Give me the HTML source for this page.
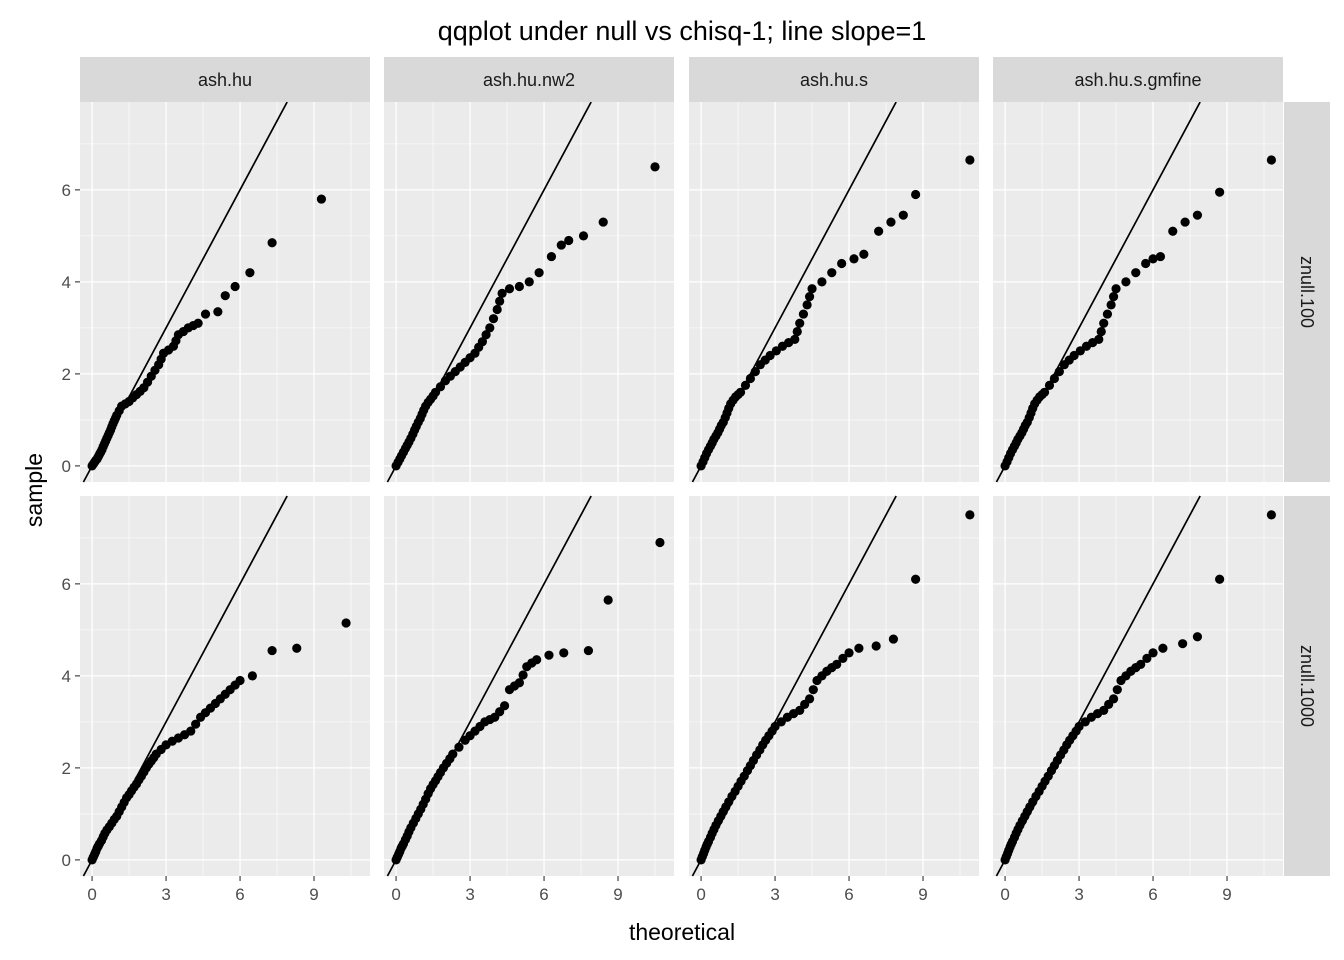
<!DOCTYPE html>
<html><head><meta charset="utf-8"><style>
body{margin:0;background:#fff;}
svg{display:block;font-family:"Liberation Sans",Arial,sans-serif;}
</style></head><body>
<svg id="chart" width="1344" height="960" viewBox="0 0 1344 960" xmlns="http://www.w3.org/2000/svg">
<text x="682" y="40" text-anchor="middle" font-size="27" fill="#000">qqplot under null vs chisq-1; line slope=1</text>
<text x="682" y="940" text-anchor="middle" font-size="23" fill="#000">theoretical</text>
<text transform="translate(42,490) rotate(-90)" text-anchor="middle" font-size="23" fill="#000">sample</text>
</svg>
<script>
const methods=["ash.hu","ash.hu.nw2","ash.hu.s","ash.hu.s.gmfine"];
const nulls=["znull.100","znull.1000"];
const xTicks=[0,3,6,9];
const yTicks=[0,2,4,6];
const p100_hu=[[0,0],[0.05,0.04],[0.1,0.08],[0.15,0.12],[0.2,0.15],[0.25,0.2],[0.3,0.25],[0.35,0.3],[0.4,0.35],[0.45,0.42],[0.5,0.48],[0.55,0.54],[0.6,0.6],[0.65,0.66],[0.7,0.72],[0.75,0.78],[0.8,0.85],[0.85,0.92],[0.9,0.98],[0.95,1.04],[1.0,1.1],[1.1,1.2],[1.2,1.3],[1.35,1.35],[1.5,1.4],[1.65,1.48],[1.8,1.55],[1.95,1.62],[2.1,1.7],[2.25,1.82],[2.4,1.95],[2.55,2.08],[2.7,2.2],[2.8,2.32],[2.9,2.45],[3.1,2.52],[3.3,2.6],[3.4,2.72],[3.5,2.85],[3.7,2.92],[3.9,3.0],[4.1,3.05],[4.3,3.1],[4.6,3.3],[5.1,3.35],[5.4,3.7],[5.8,3.9],[6.4,4.2],[7.3,4.85],[9.3,5.8]];
const p100_nw2=[[0,0],[0.08,0.08],[0.15,0.15],[0.22,0.22],[0.3,0.3],[0.38,0.38],[0.45,0.45],[0.52,0.52],[0.6,0.6],[0.68,0.69],[0.75,0.78],[0.82,0.86],[0.9,0.95],[0.98,1.03],[1.05,1.12],[1.12,1.21],[1.2,1.3],[1.3,1.38],[1.4,1.45],[1.5,1.52],[1.6,1.6],[1.8,1.72],[2,1.85],[2.2,1.95],[2.4,2.05],[2.6,2.15],[2.8,2.25],[3.0,2.35],[3.2,2.45],[3.35,2.58],[3.5,2.7],[3.65,2.85],[3.8,3.0],[3.95,3.2],[4.1,3.4],[4.2,3.58],[4.3,3.75],[4.6,3.85],[5,3.9],[5.4,4.0],[5.8,4.2],[6.3,4.55],[6.7,4.8],[7.0,4.9],[7.6,5.0],[8.4,5.3],[10.5,6.5]];
const p100_s=[[0,0],[0.08,0.09],[0.15,0.18],[0.22,0.27],[0.3,0.35],[0.38,0.43],[0.45,0.5],[0.52,0.58],[0.6,0.65],[0.68,0.72],[0.75,0.8],[0.82,0.88],[0.9,0.95],[0.98,1.05],[1.05,1.15],[1.12,1.25],[1.2,1.35],[1.3,1.43],[1.4,1.5],[1.5,1.55],[1.6,1.6],[1.8,1.75],[2,1.9],[2.2,2.05],[2.4,2.2],[2.6,2.3],[2.8,2.4],[3.05,2.5],[3.3,2.6],[3.55,2.68],[3.8,2.75],[3.9,2.92],[4.0,3.1],[4.15,3.3],[4.3,3.5],[4.4,3.68],[4.5,3.85],[4.9,4.0],[5.3,4.2],[5.7,4.4],[6.2,4.5],[6.6,4.6],[7.2,5.1],[7.7,5.3],[8.2,5.45],[8.7,5.9],[10.9,6.65]];
const p100_gm=[[0,0],[0.08,0.09],[0.15,0.18],[0.22,0.27],[0.3,0.35],[0.38,0.43],[0.45,0.5],[0.52,0.58],[0.6,0.65],[0.68,0.72],[0.75,0.8],[0.82,0.88],[0.9,0.95],[0.98,1.05],[1.05,1.15],[1.12,1.25],[1.2,1.35],[1.3,1.43],[1.4,1.5],[1.5,1.55],[1.6,1.6],[1.8,1.75],[2,1.9],[2.2,2.05],[2.4,2.2],[2.6,2.3],[2.8,2.4],[3.05,2.5],[3.3,2.6],[3.55,2.68],[3.8,2.75],[3.9,2.92],[4.0,3.1],[4.15,3.3],[4.3,3.5],[4.4,3.68],[4.5,3.85],[4.9,4.0],[5.3,4.2],[5.7,4.4],[6.0,4.5],[6.3,4.55],[6.8,5.1],[7.3,5.3],[7.8,5.45],[8.7,5.95],[10.8,6.65]];
const p1000_hu=[[0,0],[0.05,0.06],[0.1,0.12],[0.15,0.18],[0.2,0.25],[0.25,0.3],[0.3,0.35],[0.38,0.42],[0.45,0.5],[0.52,0.58],[0.6,0.65],[0.7,0.72],[0.8,0.8],[0.9,0.88],[1,0.95],[1.1,1.05],[1.2,1.15],[1.3,1.25],[1.4,1.35],[1.5,1.42],[1.6,1.5],[1.7,1.58],[1.8,1.65],[1.9,1.74],[2.0,1.82],[2.1,1.91],[2.2,2.0],[2.3,2.08],[2.4,2.15],[2.5,2.22],[2.6,2.3],[2.8,2.4],[3,2.5],[3.25,2.58],[3.5,2.65],[3.75,2.72],[4,2.8],[4.2,2.95],[4.4,3.1],[4.6,3.2],[4.8,3.3],[5.0,3.4],[5.2,3.5],[5.4,3.6],[5.6,3.7],[5.8,3.8],[6,3.9],[6.5,4.0],[7.3,4.55],[8.3,4.6],[10.3,5.15]];
const p1000_nw2=[[0,0],[0.05,0.06],[0.1,0.12],[0.15,0.18],[0.2,0.25],[0.25,0.3],[0.3,0.35],[0.38,0.44],[0.45,0.52],[0.52,0.61],[0.6,0.7],[0.7,0.8],[0.8,0.9],[0.9,1.0],[1,1.1],[1.1,1.21],[1.2,1.32],[1.3,1.44],[1.4,1.55],[1.5,1.64],[1.6,1.72],[1.7,1.81],[1.8,1.9],[1.92,2.0],[2.05,2.1],[2.18,2.2],[2.3,2.3],[2.55,2.45],[2.8,2.6],[3.0,2.7],[3.2,2.8],[3.4,2.9],[3.6,3.0],[3.8,3.05],[4.0,3.1],[4.2,3.22],[4.4,3.35],[4.6,3.7],[4.8,3.78],[5,3.85],[5.15,4.02],[5.3,4.2],[5.5,4.28],[5.7,4.35],[6.2,4.45],[6.8,4.5],[7.8,4.55],[8.6,5.65],[10.7,6.9]];
const p1000_s=[[0,0],[0.05,0.07],[0.1,0.14],[0.15,0.21],[0.2,0.28],[0.25,0.34],[0.3,0.4],[0.38,0.49],[0.45,0.58],[0.52,0.66],[0.6,0.75],[0.7,0.85],[0.8,0.95],[0.9,1.05],[1,1.15],[1.12,1.26],[1.25,1.38],[1.38,1.49],[1.5,1.6],[1.62,1.71],[1.75,1.82],[1.88,1.94],[2,2.05],[2.12,2.16],[2.25,2.28],[2.38,2.39],[2.5,2.5],[2.62,2.6],[2.75,2.7],[2.88,2.8],[3,2.9],[3.25,3.0],[3.5,3.1],[3.75,3.18],[4,3.25],[4.2,3.38],[4.4,3.5],[4.55,3.7],[4.7,3.9],[4.9,4.0],[5.1,4.1],[5.3,4.18],[5.5,4.25],[5.75,4.38],[6,4.5],[6.4,4.6],[7.1,4.65],[7.8,4.8],[8.7,6.1],[10.9,7.5]];
const p1000_gm=[[0,0],[0.05,0.07],[0.1,0.14],[0.15,0.21],[0.2,0.28],[0.25,0.34],[0.3,0.4],[0.38,0.49],[0.45,0.58],[0.52,0.66],[0.6,0.75],[0.7,0.85],[0.8,0.95],[0.9,1.05],[1,1.15],[1.12,1.26],[1.25,1.38],[1.38,1.49],[1.5,1.6],[1.62,1.71],[1.75,1.82],[1.88,1.94],[2,2.05],[2.12,2.16],[2.25,2.28],[2.38,2.39],[2.5,2.5],[2.62,2.6],[2.75,2.7],[2.88,2.8],[3,2.9],[3.25,3.0],[3.5,3.1],[3.75,3.18],[4,3.25],[4.2,3.38],[4.4,3.5],[4.55,3.7],[4.7,3.9],[4.9,4.0],[5.1,4.1],[5.3,4.18],[5.5,4.25],[5.75,4.38],[6,4.5],[6.4,4.6],[7.2,4.7],[7.8,4.85],[8.7,6.1],[10.8,7.5]];
const panelData=[[p100_hu,p100_nw2,p100_s,p100_gm],[p1000_hu,p1000_nw2,p1000_s,p1000_gm]];

const NS="http://www.w3.org/2000/svg";
const svg=document.getElementById("chart");
function mk(tag,attrs,parent){const e=document.createElementNS(NS,tag);for(const k in attrs)e.setAttribute(k,attrs[k]);(parent||svg).appendChild(e);return e;}
const colX=[80,384,689,993], pw=290;
const rowY=[102,496], ph=380;
const xmin=-0.49,xmax=11.27,ymin=-0.35,ymax=7.91;
for(let r=0;r<2;r++){
 for(let c=0;c<4;c++){
  const X=v=>colX[c]+(v-xmin)/(xmax-xmin)*pw;
  const Y=v=>rowY[r]+ph-(v-ymin)/(ymax-ymin)*ph;
  const g=mk("g",{});
  
  
  mk("rect",{x:colX[c],y:rowY[r],width:pw,height:ph,fill:"#ebebeb"},g);
  [1.5,4.5,7.5,10.5].forEach(v=>mk("line",{x1:X(v),x2:X(v),y1:rowY[r],y2:rowY[r]+ph,stroke:"#fff","stroke-width":0.6},g));
  [1,3,5,7].forEach(v=>mk("line",{x1:colX[c],x2:colX[c]+pw,y1:Y(v),y2:Y(v),stroke:"#fff","stroke-width":0.6},g));
  xTicks.forEach(v=>mk("line",{x1:X(v),x2:X(v),y1:rowY[r],y2:rowY[r]+ph,stroke:"#fff","stroke-width":1.3},g));
  yTicks.forEach(v=>mk("line",{x1:colX[c],x2:colX[c]+pw,y1:Y(v),y2:Y(v),stroke:"#fff","stroke-width":1.3},g));
  const lo=Math.max(xmin,ymin),hi=Math.min(xmax,ymax);
  const ln=mk("line",{x1:X(lo),y1:Y(lo),x2:X(hi),y2:Y(hi),stroke:"#000","stroke-width":1.7},g);
  
  
  panelData[r][c].forEach(p=>{
   const pt=mk("circle",{cx:X(p[0]),cy:Y(p[1]),r:4.6,fill:"#000"},g);
   
   
  });
  if(c===0){
   yTicks.forEach(v=>{
    mk("line",{x1:colX[0]-5,x2:colX[0],y1:Y(v),y2:Y(v),stroke:"#333","stroke-width":1.1});
    const t=mk("text",{x:colX[0]-9,y:Y(v)+6,"text-anchor":"end","font-size":17,fill:"#4d4d4d"});
    t.textContent=v;
    
    
   });
  }
  if(r===1){
   xTicks.forEach(v=>{
    mk("line",{x1:X(v),x2:X(v),y1:rowY[1]+ph,y2:rowY[1]+ph+5,stroke:"#333","stroke-width":1.1});
    const t=mk("text",{x:X(v),y:rowY[1]+ph+24,"text-anchor":"middle","font-size":17,fill:"#4d4d4d"});
    t.textContent=v;
    
    
   });
  }
  if(r===0){
   const s=mk("rect",{x:colX[c],y:57,width:pw,height:45,fill:"#d9d9d9"});
   
   
   const t=mk("text",{x:colX[c]+pw/2,y:86,"text-anchor":"middle","font-size":18,fill:"#1a1a1a"});
   t.textContent=methods[c];
   
   
  }
 }
 const s=mk("rect",{x:1284,y:rowY[r],width:46,height:ph,fill:"#d9d9d9"});
 
 
 const t=mk("text",{transform:"translate(1301,"+(rowY[r]+ph/2)+") rotate(90)","text-anchor":"middle","font-size":18,fill:"#1a1a1a"});
 t.textContent=nulls[r];
 
 
}
</script>
</body></html>
